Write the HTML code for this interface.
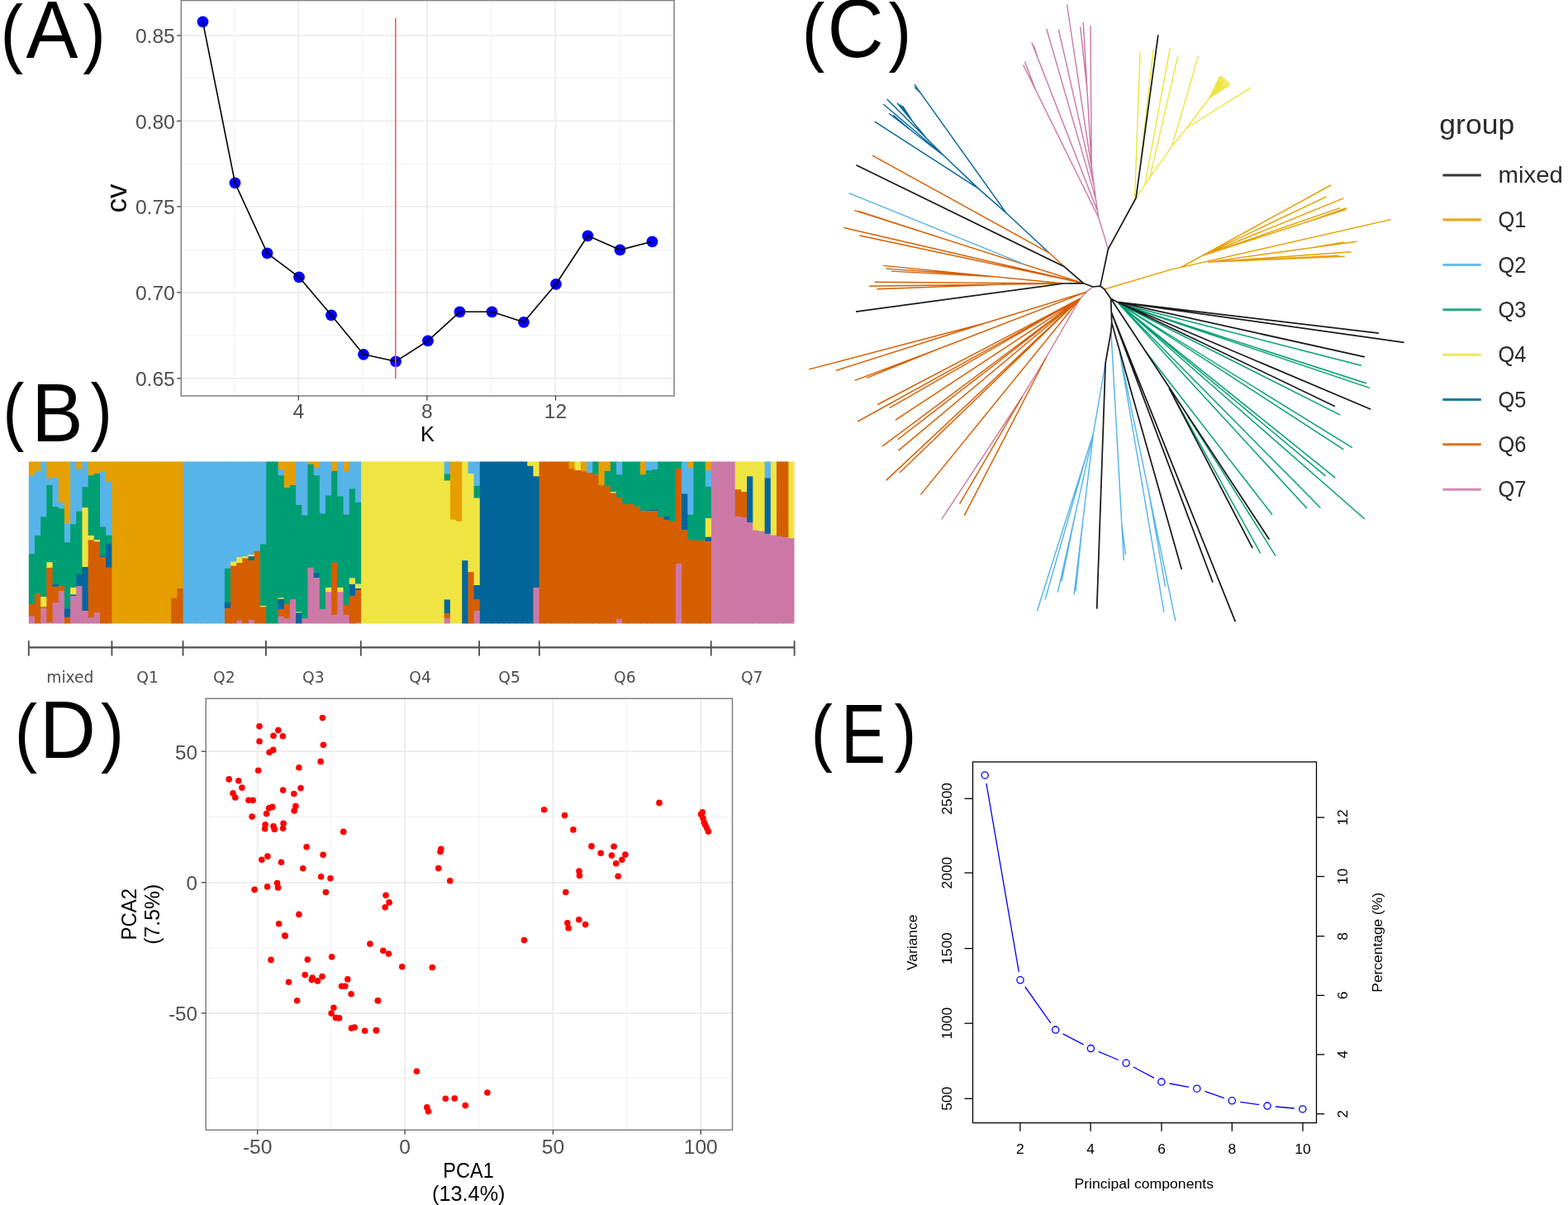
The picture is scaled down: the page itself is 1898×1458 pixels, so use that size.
<!DOCTYPE html>
<html lang="en"><head><meta charset="utf-8"><title>Population structure figure</title>
<style>html,body{margin:0;padding:0;background:#fff}body{width:1898px;height:1458px;overflow:hidden}svg{display:block}text{font-family:"Liberation Sans", sans-serif}.dj{font-family:"DejaVu Sans", "Liberation Sans", sans-serif}.tk{fill:#4d4d4d;font-size:24.6px}.ti{fill:#000;font-size:25.5px}.gmaj{stroke:#ebebeb;stroke-width:1.7;fill:none}.gmin{stroke:#efefef;stroke-width:0.9;fill:none}.ax{stroke:#333;stroke-width:1.2;fill:none}.bd{stroke:#7f7f7f;stroke-width:1.5;fill:none}.et{fill:#000;font-size:17.4px}.lg{fill:#2b2b2b;font-size:28.3px}</style></head><body>
<svg width="1898" height="1458" viewBox="0 0 1898 1458">
<rect width="1898" height="1458" fill="#fff"/>
<g id="panelA">
<path class="gmin" d="M219.3 94.7H816.0"/>
<path class="gmin" d="M219.3 198.2H816.0"/>
<path class="gmin" d="M219.3 302.0H816.0"/>
<path class="gmin" d="M219.3 405.8H816.0"/>
<path class="gmin" d="M283.5 0.5V479.0"/>
<path class="gmin" d="M439.1 0.5V479.0"/>
<path class="gmin" d="M594.7 0.5V479.0"/>
<path class="gmin" d="M750.3 0.5V479.0"/>
<path class="gmaj" d="M219.3 43.0H816.0"/>
<path class="gmaj" d="M219.3 146.4H816.0"/>
<path class="gmaj" d="M219.3 250.0H816.0"/>
<path class="gmaj" d="M219.3 353.8H816.0"/>
<path class="gmaj" d="M219.3 457.8H816.0"/>
<path class="gmaj" d="M361.3 0.5V479.0"/>
<path class="gmaj" d="M516.9 0.5V479.0"/>
<path class="gmaj" d="M672.5 0.5V479.0"/>
<g fill="#0000ff"><circle cx="245.5" cy="26.3" r="6.9"/><circle cx="284.5" cy="221.3" r="6.9"/><circle cx="323.5" cy="306.3" r="6.9"/><circle cx="362.0" cy="335.3" r="6.9"/><circle cx="401.0" cy="381.3" r="6.9"/><circle cx="440.0" cy="428.8" r="6.9"/><circle cx="479.0" cy="437.3" r="6.9"/><circle cx="518.0" cy="412.3" r="6.9"/><circle cx="556.5" cy="377.3" r="6.9"/><circle cx="595.5" cy="377.3" r="6.9"/><circle cx="634.0" cy="389.8" r="6.9"/><circle cx="673.0" cy="343.8" r="6.9"/><circle cx="711.5" cy="285.3" r="6.9"/><circle cx="750.5" cy="302.3" r="6.9"/><circle cx="789.5" cy="292.3" r="6.9"/></g>
<path d="M245.5 26.3 L284.5 221.3 L323.5 306.3 L362.0 335.3 L401.0 381.3 L440.0 428.8 L479.0 437.3 L518.0 412.3 L556.5 377.3 L595.5 377.3 L634.0 389.8 L673.0 343.8 L711.5 285.3 L750.5 302.3 L789.5 292.3" fill="none" stroke="#000" stroke-width="1.6" stroke-linejoin="round"/>
<path d="M478.8 22V458" stroke="#fb5a52" stroke-width="1.6" fill="none"/>
<rect class="bd" x="219.3" y="0.5" width="596.7" height="478.5"/>
<path class="ax" d="M214.2 43.0H218.8"/>
<text class="tk" x="211.8" y="52.4" text-anchor="end">0.85</text>
<path class="ax" d="M214.2 146.4H218.8"/>
<text class="tk" x="211.8" y="155.8" text-anchor="end">0.80</text>
<path class="ax" d="M214.2 250.0H218.8"/>
<text class="tk" x="211.8" y="259.4" text-anchor="end">0.75</text>
<path class="ax" d="M214.2 353.8H218.8"/>
<text class="tk" x="211.8" y="363.2" text-anchor="end">0.70</text>
<path class="ax" d="M214.2 457.8H218.8"/>
<text class="tk" x="211.8" y="467.2" text-anchor="end">0.65</text>
<path class="ax" d="M361.3 479.0V484.6"/>
<text class="tk" x="361.3" y="506.4" text-anchor="middle">4</text>
<path class="ax" d="M516.9 479.0V484.6"/>
<text class="tk" x="516.9" y="506.4" text-anchor="middle">8</text>
<path class="ax" d="M672.5 479.0V484.6"/>
<text class="tk" x="672.5" y="506.4" text-anchor="middle">12</text>
<text class="ti" x="517.6" y="533.8" text-anchor="middle">K</text>
<text transform="translate(153.2 240) rotate(-90)" text-anchor="middle" font-size="35" fill="#000">cv</text>
</g>
<text fill="#000"><tspan x="0.58" y="71.47" font-size="93.38" textLength="27.51" lengthAdjust="spacingAndGlyphs">(</tspan><tspan x="31.42" y="69.80" font-size="98.11" textLength="62.97" lengthAdjust="spacingAndGlyphs">A</tspan><tspan x="100.32" y="71.47" font-size="93.38" textLength="27.51" lengthAdjust="spacingAndGlyphs">)</tspan></text>
<text fill="#000"><tspan x="3.38" y="528.01" font-size="90.27" textLength="25.87" lengthAdjust="spacingAndGlyphs">(</tspan><tspan x="38.14" y="534.10" font-size="100.58" textLength="62.28" lengthAdjust="spacingAndGlyphs">B</tspan><tspan x="109.54" y="528.01" font-size="90.27" textLength="26.25" lengthAdjust="spacingAndGlyphs">)</tspan></text>
<text fill="#000"><tspan x="970.68" y="68.59" font-size="93.28" textLength="27.51" lengthAdjust="spacingAndGlyphs">(</tspan><tspan x="1001.40" y="68.93" font-size="99.43" textLength="68.19" lengthAdjust="spacingAndGlyphs">C</tspan><tspan x="1075.61" y="68.59" font-size="93.28" textLength="27.63" lengthAdjust="spacingAndGlyphs">)</tspan></text>
<text fill="#000"><tspan x="17.72" y="916.77" font-size="93.38" textLength="27.25" lengthAdjust="spacingAndGlyphs">(</tspan><tspan x="47.89" y="917.10" font-size="98.84" textLength="67.91" lengthAdjust="spacingAndGlyphs">D</tspan><tspan x="121.90" y="916.77" font-size="93.38" textLength="28.13" lengthAdjust="spacingAndGlyphs">)</tspan></text>
<text fill="#000"><tspan x="981.74" y="916.20" font-size="89.84" textLength="26.12" lengthAdjust="spacingAndGlyphs">(</tspan><tspan x="1018.04" y="922.80" font-size="102.04" textLength="54.15" lengthAdjust="spacingAndGlyphs">E</tspan><tspan x="1082.43" y="916.20" font-size="89.84" textLength="26.75" lengthAdjust="spacingAndGlyphs">)</tspan></text>
<g id="panelB">
<clipPath id="barclip"><rect x="34.80" y="558.40" width="926.75" height="196.20"/></clipPath>
<g clip-path="url(#barclip)">
<rect x="32.80" y="556.40" width="10.18" height="19.35" fill="#E69F00"/>
<rect x="32.80" y="575.45" width="10.18" height="94.92" fill="#56B4E9"/>
<rect x="32.80" y="670.07" width="10.18" height="61.25" fill="#009E73"/>
<rect x="32.80" y="731.02" width="10.18" height="14.93" fill="#D55E00"/>
<rect x="32.80" y="745.65" width="10.18" height="10.95" fill="#CC79A7"/>
<rect x="41.98" y="556.40" width="8.18" height="14.09" fill="#E69F00"/>
<rect x="41.98" y="570.19" width="8.18" height="78.01" fill="#56B4E9"/>
<rect x="41.98" y="647.90" width="8.18" height="70.63" fill="#009E73"/>
<rect x="41.98" y="718.23" width="8.18" height="38.37" fill="#D55E00"/>
<rect x="49.17" y="556.40" width="8.18" height="69.07" fill="#56B4E9"/>
<rect x="49.17" y="625.17" width="8.18" height="97.33" fill="#009E73"/>
<rect x="49.17" y="722.21" width="8.18" height="12.38" fill="#F0E442"/>
<rect x="49.17" y="734.28" width="8.18" height="2.15" fill="#D55E00"/>
<rect x="49.17" y="736.13" width="8.18" height="20.47" fill="#CC79A7"/>
<rect x="56.35" y="556.40" width="8.18" height="22.62" fill="#E69F00"/>
<rect x="56.35" y="578.72" width="8.18" height="8.54" fill="#56B4E9"/>
<rect x="56.35" y="586.96" width="8.18" height="93.64" fill="#009E73"/>
<rect x="56.35" y="680.30" width="8.18" height="6.98" fill="#F0E442"/>
<rect x="56.35" y="686.97" width="8.18" height="66.08" fill="#D55E00"/>
<rect x="56.35" y="752.75" width="8.18" height="3.85" fill="#CC79A7"/>
<rect x="63.54" y="556.40" width="8.18" height="21.48" fill="#E69F00"/>
<rect x="63.54" y="577.58" width="8.18" height="35.82" fill="#56B4E9"/>
<rect x="63.54" y="613.10" width="8.18" height="93.78" fill="#009E73"/>
<rect x="63.54" y="706.58" width="8.18" height="3.57" fill="#03669B"/>
<rect x="63.54" y="709.85" width="8.18" height="19.48" fill="#D55E00"/>
<rect x="63.54" y="729.03" width="8.18" height="27.57" fill="#CC79A7"/>
<rect x="70.72" y="556.40" width="8.18" height="51.74" fill="#E69F00"/>
<rect x="70.72" y="607.84" width="8.18" height="7.69" fill="#56B4E9"/>
<rect x="70.72" y="615.23" width="8.18" height="94.07" fill="#009E73"/>
<rect x="70.72" y="709.00" width="8.18" height="6.41" fill="#D55E00"/>
<rect x="70.72" y="715.10" width="8.18" height="41.50" fill="#CC79A7"/>
<rect x="77.90" y="556.40" width="8.18" height="77.03" fill="#E69F00"/>
<rect x="77.90" y="633.13" width="8.18" height="23.32" fill="#56B4E9"/>
<rect x="77.90" y="656.14" width="8.18" height="80.29" fill="#009E73"/>
<rect x="77.90" y="736.13" width="8.18" height="10.81" fill="#03669B"/>
<rect x="77.90" y="746.64" width="8.18" height="9.96" fill="#D55E00"/>
<rect x="85.09" y="556.40" width="8.18" height="78.02" fill="#56B4E9"/>
<rect x="85.09" y="634.12" width="8.18" height="77.02" fill="#009E73"/>
<rect x="85.09" y="710.84" width="8.18" height="8.82" fill="#F0E442"/>
<rect x="85.09" y="719.37" width="8.18" height="2.15" fill="#03669B"/>
<rect x="85.09" y="721.21" width="8.18" height="35.39" fill="#CC79A7"/>
<rect x="92.27" y="556.40" width="8.18" height="11.68" fill="#E69F00"/>
<rect x="92.27" y="567.78" width="8.18" height="51.02" fill="#56B4E9"/>
<rect x="92.27" y="618.50" width="8.18" height="76.02" fill="#009E73"/>
<rect x="92.27" y="694.22" width="8.18" height="15.08" fill="#03669B"/>
<rect x="92.27" y="709.00" width="8.18" height="47.60" fill="#CC79A7"/>
<rect x="99.46" y="556.40" width="8.18" height="32.99" fill="#56B4E9"/>
<rect x="99.46" y="589.09" width="8.18" height="25.45" fill="#009E73"/>
<rect x="99.46" y="614.23" width="8.18" height="72.05" fill="#F0E442"/>
<rect x="99.46" y="685.98" width="8.18" height="53.58" fill="#03669B"/>
<rect x="99.46" y="739.26" width="8.18" height="17.34" fill="#CC79A7"/>
<rect x="106.64" y="556.40" width="8.18" height="19.06" fill="#E69F00"/>
<rect x="106.64" y="575.16" width="8.18" height="73.04" fill="#009E73"/>
<rect x="106.64" y="647.90" width="8.18" height="5.70" fill="#F0E442"/>
<rect x="106.64" y="653.30" width="8.18" height="94.49" fill="#D55E00"/>
<rect x="106.64" y="747.50" width="8.18" height="9.10" fill="#CC79A7"/>
<rect x="113.83" y="556.40" width="8.18" height="16.93" fill="#E69F00"/>
<rect x="113.83" y="573.03" width="8.18" height="80.57" fill="#009E73"/>
<rect x="113.83" y="653.30" width="8.18" height="2.43" fill="#F0E442"/>
<rect x="113.83" y="655.43" width="8.18" height="86.25" fill="#D55E00"/>
<rect x="113.83" y="741.39" width="8.18" height="15.21" fill="#CC79A7"/>
<rect x="121.01" y="556.40" width="8.18" height="14.09" fill="#E69F00"/>
<rect x="121.01" y="570.19" width="8.18" height="67.36" fill="#56B4E9"/>
<rect x="121.01" y="637.25" width="8.18" height="35.25" fill="#009E73"/>
<rect x="121.01" y="672.20" width="8.18" height="2.29" fill="#03669B"/>
<rect x="121.01" y="674.19" width="8.18" height="82.41" fill="#D55E00"/>
<rect x="128.19" y="556.40" width="8.18" height="26.59" fill="#E69F00"/>
<rect x="128.19" y="582.69" width="8.18" height="65.23" fill="#56B4E9"/>
<rect x="128.19" y="647.62" width="8.18" height="9.96" fill="#009E73"/>
<rect x="128.19" y="657.28" width="8.18" height="29.71" fill="#03669B"/>
<rect x="128.19" y="686.69" width="8.18" height="69.91" fill="#D55E00"/>
<rect x="135.38" y="556.40" width="8.18" height="200.20" fill="#E69F00"/>
<rect x="142.56" y="556.40" width="8.18" height="200.20" fill="#E69F00"/>
<rect x="149.75" y="556.40" width="8.18" height="200.20" fill="#E69F00"/>
<rect x="156.93" y="556.40" width="8.18" height="200.20" fill="#E69F00"/>
<rect x="164.11" y="556.40" width="8.18" height="200.20" fill="#E69F00"/>
<rect x="171.30" y="556.40" width="8.18" height="200.20" fill="#E69F00"/>
<rect x="178.48" y="556.40" width="8.18" height="200.20" fill="#E69F00"/>
<rect x="185.67" y="556.40" width="8.18" height="200.20" fill="#E69F00"/>
<rect x="192.85" y="556.40" width="8.18" height="200.20" fill="#E69F00"/>
<rect x="200.03" y="556.40" width="8.18" height="200.20" fill="#E69F00"/>
<rect x="207.22" y="556.40" width="8.18" height="167.53" fill="#E69F00"/>
<rect x="207.22" y="723.63" width="8.18" height="32.97" fill="#D55E00"/>
<rect x="214.40" y="556.40" width="8.18" height="155.88" fill="#E69F00"/>
<rect x="214.40" y="711.98" width="8.18" height="44.62" fill="#D55E00"/>
<rect x="221.59" y="556.40" width="8.18" height="200.20" fill="#56B4E9"/>
<rect x="228.77" y="556.40" width="8.18" height="200.20" fill="#56B4E9"/>
<rect x="235.96" y="556.40" width="8.18" height="200.20" fill="#56B4E9"/>
<rect x="243.14" y="556.40" width="8.18" height="200.20" fill="#56B4E9"/>
<rect x="250.32" y="556.40" width="8.18" height="200.20" fill="#56B4E9"/>
<rect x="257.51" y="556.40" width="8.18" height="200.20" fill="#56B4E9"/>
<rect x="264.69" y="556.40" width="8.18" height="200.20" fill="#56B4E9"/>
<rect x="271.88" y="556.40" width="8.18" height="131.73" fill="#56B4E9"/>
<rect x="271.88" y="687.83" width="8.18" height="41.36" fill="#009E73"/>
<rect x="271.88" y="728.89" width="8.18" height="7.55" fill="#03669B"/>
<rect x="271.88" y="736.13" width="8.18" height="20.47" fill="#D55E00"/>
<rect x="279.06" y="556.40" width="8.18" height="123.49" fill="#56B4E9"/>
<rect x="279.06" y="679.59" width="8.18" height="5.27" fill="#F0E442"/>
<rect x="279.06" y="684.56" width="8.18" height="72.04" fill="#D55E00"/>
<rect x="286.24" y="556.40" width="8.18" height="118.09" fill="#56B4E9"/>
<rect x="286.24" y="674.19" width="8.18" height="7.12" fill="#F0E442"/>
<rect x="286.24" y="681.01" width="8.18" height="69.91" fill="#D55E00"/>
<rect x="286.24" y="750.62" width="8.18" height="5.98" fill="#CC79A7"/>
<rect x="293.43" y="556.40" width="8.18" height="117.09" fill="#56B4E9"/>
<rect x="293.43" y="673.19" width="8.18" height="2.43" fill="#F0E442"/>
<rect x="293.43" y="675.32" width="8.18" height="81.28" fill="#D55E00"/>
<rect x="300.61" y="556.40" width="8.18" height="114.96" fill="#56B4E9"/>
<rect x="300.61" y="671.06" width="8.18" height="2.43" fill="#F0E442"/>
<rect x="300.61" y="673.19" width="8.18" height="5.27" fill="#03669B"/>
<rect x="300.61" y="678.17" width="8.18" height="72.05" fill="#D55E00"/>
<rect x="300.61" y="749.91" width="8.18" height="6.69" fill="#CC79A7"/>
<rect x="307.80" y="556.40" width="8.18" height="110.70" fill="#56B4E9"/>
<rect x="307.80" y="666.80" width="8.18" height="89.80" fill="#D55E00"/>
<rect x="314.98" y="556.40" width="8.18" height="102.18" fill="#56B4E9"/>
<rect x="314.98" y="658.28" width="8.18" height="74.89" fill="#009E73"/>
<rect x="314.98" y="732.86" width="8.18" height="1.72" fill="#F0E442"/>
<rect x="314.98" y="734.28" width="8.18" height="22.32" fill="#D55E00"/>
<rect x="322.16" y="556.40" width="8.18" height="200.20" fill="#009E73"/>
<rect x="329.35" y="556.40" width="8.18" height="200.20" fill="#009E73"/>
<rect x="336.53" y="556.40" width="8.18" height="11.96" fill="#E69F00"/>
<rect x="336.53" y="568.06" width="8.18" height="7.40" fill="#56B4E9"/>
<rect x="336.53" y="575.16" width="8.18" height="148.48" fill="#009E73"/>
<rect x="336.53" y="723.34" width="8.18" height="1.72" fill="#F0E442"/>
<rect x="336.53" y="724.77" width="8.18" height="12.66" fill="#03669B"/>
<rect x="336.53" y="737.13" width="8.18" height="8.82" fill="#D55E00"/>
<rect x="336.53" y="745.65" width="8.18" height="10.95" fill="#CC79A7"/>
<rect x="343.72" y="556.40" width="8.18" height="33.98" fill="#E69F00"/>
<rect x="343.72" y="590.08" width="8.18" height="140.95" fill="#009E73"/>
<rect x="343.72" y="730.73" width="8.18" height="18.06" fill="#D55E00"/>
<rect x="343.72" y="748.49" width="8.18" height="8.11" fill="#CC79A7"/>
<rect x="350.90" y="556.40" width="8.18" height="30.86" fill="#E69F00"/>
<rect x="350.90" y="586.96" width="8.18" height="138.82" fill="#009E73"/>
<rect x="350.90" y="725.48" width="8.18" height="31.12" fill="#CC79A7"/>
<rect x="358.08" y="556.40" width="8.18" height="54.87" fill="#56B4E9"/>
<rect x="358.08" y="610.97" width="8.18" height="129.73" fill="#009E73"/>
<rect x="358.08" y="740.39" width="8.18" height="1.29" fill="#F0E442"/>
<rect x="358.08" y="741.39" width="8.18" height="15.21" fill="#03669B"/>
<rect x="365.27" y="556.40" width="8.18" height="67.37" fill="#56B4E9"/>
<rect x="365.27" y="623.47" width="8.18" height="125.32" fill="#009E73"/>
<rect x="365.27" y="748.49" width="8.18" height="8.11" fill="#CC79A7"/>
<rect x="372.45" y="556.40" width="8.18" height="5.57" fill="#E69F00"/>
<rect x="372.45" y="561.67" width="8.18" height="125.32" fill="#009E73"/>
<rect x="372.45" y="686.69" width="8.18" height="69.91" fill="#CC79A7"/>
<rect x="379.64" y="556.40" width="8.18" height="9.83" fill="#E69F00"/>
<rect x="379.64" y="565.93" width="8.18" height="9.53" fill="#56B4E9"/>
<rect x="379.64" y="575.16" width="8.18" height="118.22" fill="#009E73"/>
<rect x="379.64" y="693.08" width="8.18" height="6.41" fill="#03669B"/>
<rect x="379.64" y="699.19" width="8.18" height="57.41" fill="#CC79A7"/>
<rect x="386.82" y="556.40" width="8.18" height="65.24" fill="#56B4E9"/>
<rect x="386.82" y="621.34" width="8.18" height="116.09" fill="#009E73"/>
<rect x="386.82" y="737.13" width="8.18" height="19.47" fill="#CC79A7"/>
<rect x="394.01" y="556.40" width="8.18" height="43.22" fill="#56B4E9"/>
<rect x="394.01" y="599.32" width="8.18" height="111.83" fill="#009E73"/>
<rect x="394.01" y="710.84" width="8.18" height="5.70" fill="#F0E442"/>
<rect x="394.01" y="716.24" width="8.18" height="40.36" fill="#CC79A7"/>
<rect x="401.19" y="556.40" width="8.18" height="13.81" fill="#E69F00"/>
<rect x="401.19" y="569.91" width="8.18" height="110.97" fill="#009E73"/>
<rect x="401.19" y="680.58" width="8.18" height="63.95" fill="#D55E00"/>
<rect x="401.19" y="744.23" width="8.18" height="12.37" fill="#CC79A7"/>
<rect x="408.37" y="556.40" width="8.18" height="44.21" fill="#56B4E9"/>
<rect x="408.37" y="600.31" width="8.18" height="110.83" fill="#009E73"/>
<rect x="408.37" y="710.84" width="8.18" height="5.70" fill="#F0E442"/>
<rect x="408.37" y="716.24" width="8.18" height="40.36" fill="#CC79A7"/>
<rect x="415.56" y="556.40" width="8.18" height="13.81" fill="#E69F00"/>
<rect x="415.56" y="569.91" width="8.18" height="52.87" fill="#56B4E9"/>
<rect x="415.56" y="622.47" width="8.18" height="109.69" fill="#009E73"/>
<rect x="415.56" y="731.87" width="8.18" height="12.66" fill="#D55E00"/>
<rect x="415.56" y="744.23" width="8.18" height="12.37" fill="#CC79A7"/>
<rect x="422.74" y="556.40" width="8.18" height="35.12" fill="#56B4E9"/>
<rect x="422.74" y="591.22" width="8.18" height="108.56" fill="#009E73"/>
<rect x="422.74" y="699.48" width="8.18" height="7.69" fill="#F0E442"/>
<rect x="422.74" y="706.86" width="8.18" height="14.65" fill="#03669B"/>
<rect x="422.74" y="721.21" width="8.18" height="35.39" fill="#D55E00"/>
<rect x="429.93" y="556.40" width="8.18" height="51.74" fill="#56B4E9"/>
<rect x="429.93" y="607.84" width="8.18" height="99.04" fill="#009E73"/>
<rect x="429.93" y="706.58" width="8.18" height="5.70" fill="#F0E442"/>
<rect x="429.93" y="711.98" width="8.18" height="2.43" fill="#03669B"/>
<rect x="429.93" y="714.11" width="8.18" height="39.65" fill="#D55E00"/>
<rect x="429.93" y="753.46" width="8.18" height="3.14" fill="#CC79A7"/>
<rect x="437.11" y="556.40" width="8.18" height="200.20" fill="#F0E442"/>
<rect x="444.29" y="556.40" width="8.18" height="200.20" fill="#F0E442"/>
<rect x="451.48" y="556.40" width="8.18" height="200.20" fill="#F0E442"/>
<rect x="458.66" y="556.40" width="8.18" height="200.20" fill="#F0E442"/>
<rect x="465.85" y="556.40" width="8.18" height="200.20" fill="#F0E442"/>
<rect x="473.03" y="556.40" width="8.18" height="200.20" fill="#F0E442"/>
<rect x="480.21" y="556.40" width="8.18" height="200.20" fill="#F0E442"/>
<rect x="487.40" y="556.40" width="8.18" height="200.20" fill="#F0E442"/>
<rect x="494.58" y="556.40" width="8.18" height="200.20" fill="#F0E442"/>
<rect x="501.77" y="556.40" width="8.18" height="200.20" fill="#F0E442"/>
<rect x="508.95" y="556.40" width="8.18" height="200.20" fill="#F0E442"/>
<rect x="516.14" y="556.40" width="8.18" height="200.20" fill="#F0E442"/>
<rect x="523.32" y="556.40" width="8.18" height="200.20" fill="#F0E442"/>
<rect x="530.50" y="556.40" width="8.18" height="200.20" fill="#F0E442"/>
<rect x="537.69" y="556.40" width="8.18" height="17.22" fill="#56B4E9"/>
<rect x="537.69" y="573.32" width="8.18" height="8.54" fill="#009E73"/>
<rect x="537.69" y="581.56" width="8.18" height="144.22" fill="#F0E442"/>
<rect x="537.69" y="725.48" width="8.18" height="17.21" fill="#03669B"/>
<rect x="537.69" y="742.38" width="8.18" height="5.70" fill="#D55E00"/>
<rect x="537.69" y="747.78" width="8.18" height="8.82" fill="#CC79A7"/>
<rect x="544.87" y="556.40" width="8.18" height="72.63" fill="#E69F00"/>
<rect x="544.87" y="628.73" width="8.18" height="127.87" fill="#F0E442"/>
<rect x="552.06" y="556.40" width="8.18" height="74.76" fill="#E69F00"/>
<rect x="552.06" y="630.86" width="8.18" height="125.74" fill="#F0E442"/>
<rect x="559.24" y="556.40" width="8.18" height="122.07" fill="#F0E442"/>
<rect x="559.24" y="678.17" width="8.18" height="78.43" fill="#03669B"/>
<rect x="566.42" y="556.40" width="8.18" height="16.93" fill="#56B4E9"/>
<rect x="566.42" y="573.03" width="8.18" height="119.36" fill="#F0E442"/>
<rect x="566.42" y="692.09" width="8.18" height="64.51" fill="#D55E00"/>
<rect x="573.61" y="556.40" width="8.18" height="31.85" fill="#56B4E9"/>
<rect x="573.61" y="587.95" width="8.18" height="14.93" fill="#009E73"/>
<rect x="573.61" y="602.58" width="8.18" height="105.72" fill="#F0E442"/>
<rect x="573.61" y="708.00" width="8.18" height="17.77" fill="#03669B"/>
<rect x="573.61" y="725.48" width="8.18" height="14.08" fill="#D55E00"/>
<rect x="573.61" y="739.26" width="8.18" height="17.34" fill="#CC79A7"/>
<rect x="580.79" y="556.40" width="8.18" height="200.20" fill="#03669B"/>
<rect x="587.98" y="556.40" width="8.18" height="200.20" fill="#03669B"/>
<rect x="595.16" y="556.40" width="8.18" height="200.20" fill="#03669B"/>
<rect x="602.34" y="556.40" width="8.18" height="200.20" fill="#03669B"/>
<rect x="609.53" y="556.40" width="8.18" height="200.20" fill="#03669B"/>
<rect x="616.71" y="556.40" width="8.18" height="200.20" fill="#03669B"/>
<rect x="623.90" y="556.40" width="8.18" height="200.20" fill="#03669B"/>
<rect x="631.08" y="556.40" width="8.18" height="200.20" fill="#03669B"/>
<rect x="638.27" y="556.40" width="8.18" height="7.70" fill="#F0E442"/>
<rect x="638.27" y="563.80" width="8.18" height="192.80" fill="#03669B"/>
<rect x="645.45" y="556.40" width="8.18" height="20.20" fill="#F0E442"/>
<rect x="645.45" y="576.30" width="8.18" height="134.84" fill="#03669B"/>
<rect x="645.45" y="710.84" width="8.18" height="45.76" fill="#CC79A7"/>
<rect x="652.63" y="556.40" width="8.18" height="200.20" fill="#D55E00"/>
<rect x="659.82" y="556.40" width="8.18" height="200.20" fill="#D55E00"/>
<rect x="667.00" y="556.40" width="8.18" height="200.20" fill="#D55E00"/>
<rect x="674.19" y="556.40" width="8.18" height="200.20" fill="#D55E00"/>
<rect x="681.37" y="556.40" width="8.18" height="200.20" fill="#D55E00"/>
<rect x="688.55" y="556.40" width="8.18" height="10.97" fill="#E69F00"/>
<rect x="688.55" y="567.07" width="8.18" height="189.53" fill="#D55E00"/>
<rect x="695.74" y="556.40" width="8.18" height="12.96" fill="#F0E442"/>
<rect x="695.74" y="569.06" width="8.18" height="187.54" fill="#D55E00"/>
<rect x="702.92" y="556.40" width="8.18" height="14.09" fill="#E69F00"/>
<rect x="702.92" y="570.19" width="8.18" height="186.41" fill="#D55E00"/>
<rect x="710.11" y="556.40" width="8.18" height="15.94" fill="#56B4E9"/>
<rect x="710.11" y="572.04" width="8.18" height="184.56" fill="#D55E00"/>
<rect x="717.29" y="556.40" width="8.18" height="18.07" fill="#009E73"/>
<rect x="717.29" y="574.17" width="8.18" height="182.43" fill="#D55E00"/>
<rect x="724.47" y="556.40" width="8.18" height="30.86" fill="#E69F00"/>
<rect x="724.47" y="586.96" width="8.18" height="169.64" fill="#D55E00"/>
<rect x="731.66" y="556.40" width="8.18" height="13.81" fill="#E69F00"/>
<rect x="731.66" y="569.91" width="8.18" height="18.34" fill="#009E73"/>
<rect x="731.66" y="587.95" width="8.18" height="168.65" fill="#D55E00"/>
<rect x="738.84" y="556.40" width="8.18" height="38.95" fill="#009E73"/>
<rect x="738.84" y="595.05" width="8.18" height="1.72" fill="#F0E442"/>
<rect x="738.84" y="596.48" width="8.18" height="160.12" fill="#D55E00"/>
<rect x="746.03" y="556.40" width="8.18" height="18.07" fill="#56B4E9"/>
<rect x="746.03" y="574.17" width="8.18" height="27.86" fill="#009E73"/>
<rect x="746.03" y="601.73" width="8.18" height="147.49" fill="#D55E00"/>
<rect x="746.03" y="748.92" width="8.18" height="7.68" fill="#CC79A7"/>
<rect x="753.21" y="556.40" width="8.18" height="53.87" fill="#009E73"/>
<rect x="753.21" y="609.97" width="8.18" height="146.63" fill="#D55E00"/>
<rect x="760.39" y="556.40" width="8.18" height="53.87" fill="#009E73"/>
<rect x="760.39" y="609.97" width="8.18" height="146.63" fill="#D55E00"/>
<rect x="767.58" y="556.40" width="8.18" height="57.00" fill="#009E73"/>
<rect x="767.58" y="613.10" width="8.18" height="143.50" fill="#D55E00"/>
<rect x="774.76" y="556.40" width="8.18" height="18.07" fill="#E69F00"/>
<rect x="774.76" y="574.17" width="8.18" height="44.34" fill="#009E73"/>
<rect x="774.76" y="618.21" width="8.18" height="138.39" fill="#D55E00"/>
<rect x="781.95" y="556.40" width="8.18" height="12.96" fill="#56B4E9"/>
<rect x="781.95" y="569.06" width="8.18" height="48.32" fill="#009E73"/>
<rect x="781.95" y="617.08" width="8.18" height="1.44" fill="#03669B"/>
<rect x="781.95" y="618.21" width="8.18" height="138.39" fill="#D55E00"/>
<rect x="789.13" y="556.40" width="8.18" height="11.96" fill="#56B4E9"/>
<rect x="789.13" y="568.06" width="8.18" height="48.60" fill="#009E73"/>
<rect x="789.13" y="616.36" width="8.18" height="2.15" fill="#03669B"/>
<rect x="789.13" y="618.21" width="8.18" height="138.39" fill="#D55E00"/>
<rect x="796.32" y="556.40" width="8.18" height="69.50" fill="#009E73"/>
<rect x="796.32" y="625.60" width="8.18" height="131.00" fill="#D55E00"/>
<rect x="803.50" y="556.40" width="8.18" height="68.79" fill="#009E73"/>
<rect x="803.50" y="624.89" width="8.18" height="4.14" fill="#03669B"/>
<rect x="803.50" y="628.73" width="8.18" height="127.87" fill="#D55E00"/>
<rect x="810.68" y="556.40" width="8.18" height="74.76" fill="#009E73"/>
<rect x="810.68" y="630.86" width="8.18" height="125.74" fill="#D55E00"/>
<rect x="817.87" y="556.40" width="8.18" height="10.97" fill="#009E73"/>
<rect x="817.87" y="567.07" width="8.18" height="115.66" fill="#D55E00"/>
<rect x="817.87" y="682.43" width="8.18" height="74.17" fill="#CC79A7"/>
<rect x="825.05" y="556.40" width="8.18" height="41.37" fill="#56B4E9"/>
<rect x="825.05" y="597.47" width="8.18" height="44.06" fill="#03669B"/>
<rect x="825.05" y="641.23" width="8.18" height="115.37" fill="#D55E00"/>
<rect x="832.24" y="556.40" width="8.18" height="9.83" fill="#E69F00"/>
<rect x="832.24" y="565.93" width="8.18" height="57.13" fill="#56B4E9"/>
<rect x="832.24" y="622.76" width="8.18" height="30.56" fill="#009E73"/>
<rect x="832.24" y="653.02" width="8.18" height="103.58" fill="#D55E00"/>
<rect x="839.42" y="556.40" width="8.18" height="97.91" fill="#009E73"/>
<rect x="839.42" y="654.01" width="8.18" height="102.59" fill="#D55E00"/>
<rect x="846.60" y="556.40" width="8.18" height="97.91" fill="#009E73"/>
<rect x="846.60" y="654.01" width="8.18" height="102.59" fill="#D55E00"/>
<rect x="853.79" y="556.40" width="8.18" height="12.96" fill="#E69F00"/>
<rect x="853.79" y="569.06" width="8.18" height="20.19" fill="#56B4E9"/>
<rect x="853.79" y="588.95" width="8.18" height="38.38" fill="#009E73"/>
<rect x="853.79" y="627.02" width="8.18" height="23.03" fill="#F0E442"/>
<rect x="853.79" y="649.75" width="8.18" height="5.70" fill="#03669B"/>
<rect x="853.79" y="655.15" width="8.18" height="101.45" fill="#D55E00"/>
<rect x="860.97" y="556.40" width="8.18" height="200.20" fill="#CC79A7"/>
<rect x="868.16" y="556.40" width="8.18" height="200.20" fill="#CC79A7"/>
<rect x="875.34" y="556.40" width="8.18" height="200.20" fill="#CC79A7"/>
<rect x="882.52" y="556.40" width="8.18" height="200.20" fill="#CC79A7"/>
<rect x="889.71" y="556.40" width="8.18" height="36.11" fill="#F0E442"/>
<rect x="889.71" y="592.21" width="8.18" height="32.98" fill="#D55E00"/>
<rect x="889.71" y="624.89" width="8.18" height="131.71" fill="#CC79A7"/>
<rect x="896.89" y="556.40" width="8.18" height="38.95" fill="#F0E442"/>
<rect x="896.89" y="595.05" width="8.18" height="31.13" fill="#D55E00"/>
<rect x="896.89" y="625.88" width="8.18" height="130.72" fill="#CC79A7"/>
<rect x="904.08" y="556.40" width="8.18" height="20.20" fill="#F0E442"/>
<rect x="904.08" y="576.30" width="8.18" height="55.99" fill="#03669B"/>
<rect x="904.08" y="631.99" width="8.18" height="124.61" fill="#CC79A7"/>
<rect x="911.26" y="556.40" width="8.18" height="85.41" fill="#F0E442"/>
<rect x="911.26" y="641.51" width="8.18" height="115.09" fill="#CC79A7"/>
<rect x="918.45" y="556.40" width="8.18" height="86.55" fill="#F0E442"/>
<rect x="918.45" y="642.65" width="8.18" height="113.95" fill="#CC79A7"/>
<rect x="925.63" y="556.40" width="8.18" height="22.33" fill="#56B4E9"/>
<rect x="925.63" y="578.43" width="8.18" height="67.64" fill="#03669B"/>
<rect x="925.63" y="645.77" width="8.18" height="110.83" fill="#CC79A7"/>
<rect x="932.81" y="556.40" width="8.18" height="91.52" fill="#F0E442"/>
<rect x="932.81" y="647.62" width="8.18" height="108.98" fill="#CC79A7"/>
<rect x="940.00" y="556.40" width="8.18" height="92.66" fill="#D55E00"/>
<rect x="940.00" y="648.76" width="8.18" height="107.84" fill="#CC79A7"/>
<rect x="947.18" y="556.40" width="8.18" height="93.94" fill="#D55E00"/>
<rect x="947.18" y="650.04" width="8.18" height="106.56" fill="#CC79A7"/>
<rect x="954.37" y="556.40" width="8.18" height="95.07" fill="#F0E442"/>
<rect x="954.37" y="651.17" width="8.18" height="105.43" fill="#CC79A7"/>
</g>
</g>
<g id="panelBaxis">
<path d="M34.8 783.4H961.6" stroke="#505050" stroke-width="2.2" fill="none"/>
<path d="M34.8 775.2V793.6" stroke="#505050" stroke-width="1.9" fill="none"/>
<path d="M135.4 775.2V793.6" stroke="#505050" stroke-width="1.9" fill="none"/>
<path d="M221.5 775.2V793.6" stroke="#505050" stroke-width="1.9" fill="none"/>
<path d="M321.9 775.2V793.6" stroke="#505050" stroke-width="1.9" fill="none"/>
<path d="M436.8 775.2V793.6" stroke="#505050" stroke-width="1.9" fill="none"/>
<path d="M580.1 775.2V793.6" stroke="#505050" stroke-width="1.9" fill="none"/>
<path d="M652.8 775.2V793.6" stroke="#505050" stroke-width="1.9" fill="none"/>
<path d="M860.7 775.2V793.6" stroke="#505050" stroke-width="1.9" fill="none"/>
<path d="M961.6 775.2V793.6" stroke="#505050" stroke-width="1.9" fill="none"/>
<text class="dj" x="84.8" y="826.4" text-anchor="middle" font-size="18.7" fill="#4d4d4d">mixed</text>
<text class="dj" x="178.6" y="826.4" text-anchor="middle" font-size="18.7" fill="#4d4d4d">Q1</text>
<text class="dj" x="271.3" y="826.4" text-anchor="middle" font-size="18.7" fill="#4d4d4d">Q2</text>
<text class="dj" x="379.3" y="826.4" text-anchor="middle" font-size="18.7" fill="#4d4d4d">Q3</text>
<text class="dj" x="508.5" y="826.4" text-anchor="middle" font-size="18.7" fill="#4d4d4d">Q4</text>
<text class="dj" x="616.5" y="826.4" text-anchor="middle" font-size="18.7" fill="#4d4d4d">Q5</text>
<text class="dj" x="756.3" y="826.4" text-anchor="middle" font-size="18.7" fill="#4d4d4d">Q6</text>
<text class="dj" x="910.2" y="826.4" text-anchor="middle" font-size="18.7" fill="#4d4d4d">Q7</text>
</g>
<g id="panelC">
<path d="M1341.4 301.4 L1329.7 263.0 L1326.4 241.1 L1324.7 226.8 L1322.8 213.6 L1321.2 199.4 M1329.7 263.0 L1238.6 78.5 M1254.1 109.9 L1240.4 74.6 M1328.0 254.3 L1248.9 51.6 M1256.0 69.8 L1251.4 55.2 M1326.4 241.1 L1266.8 34.8 M1324.7 226.8 L1281.4 35.7 M1322.8 213.6 L1291.5 5.5 M1321.2 199.4 L1311.2 26.7 M1316.0 109.6 L1307.7 32.7 M1321.2 199.4 L1320.0 30.9 M1322.9 347.0 L1315.3 353.1 L1307.7 361.0 L1266.0 433.0 L1237.0 480.7 L1139.7 628.3" fill="none" stroke="#CC79A7" stroke-width="1.45" stroke-linejoin="round" stroke-linecap="butt"/>
<path d="M1373.6 239.0 L1380.1 63.2 M1381.1 193.7 L1396.2 59.1 M1375.1 239.5 L1386.0 223.2 L1391.7 214.9 L1418.5 177.1 L1435.0 156.8 L1437.0 154.5 L1513.9 106.2 M1386.0 223.2 L1416.3 57.9 M1391.7 214.9 L1425.9 67.3 M1418.5 177.1 L1450.5 67.7 M1435.0 156.8 L1464.1 118.3 M1464.1 118.3 L1476.9 91.6 M1464.1 118.3 L1478.6 92.0 M1464.1 118.3 L1480.2 93.0 M1464.1 118.3 L1481.8 94.2 M1464.1 118.3 L1483.4 95.5 M1464.1 118.3 L1485.0 96.8 M1464.1 118.3 L1486.5 98.3 M1464.1 118.3 L1487.8 99.9 M1464.1 118.3 L1489.0 101.7 M1464.1 118.3 L1488.0 103.0" fill="none" stroke="#F0E442" stroke-width="1.45" stroke-linejoin="round" stroke-linecap="butt"/>
<path d="M1336.9 350.0 L1420.0 325.4 L1428.9 323.6 L1434.0 321.0 L1611.0 224.0 M1453.9 309.9 L1605.6 237.9 M1453.9 309.9 L1626.5 239.8 M1453.9 309.9 L1622.1 251.6 M1453.9 309.9 L1630.2 253.1 M1586.1 267.3 L1629.4 251.7 M1428.9 323.6 L1683.7 265.6 M1462.0 317.1 L1642.4 292.2 M1586.5 299.9 L1626.5 292.9 M1462.0 317.1 L1635.4 304.7 M1462.0 317.1 L1620.6 309.2 M1462.0 317.1 L1627.7 310.3" fill="none" stroke="#E69F00" stroke-width="1.45" stroke-linejoin="round" stroke-linecap="butt"/>
<path d="M1269.7 305.8 L1218.0 257.7 L1184.0 227.9 L1142.9 188.8 L1122.3 168.2 L1073.7 120.0 M1218.0 257.7 L1106.9 102.1 M1113.5 111.8 L1107.3 105.4 M1184.0 227.9 L1058.8 147.1 M1142.9 188.8 L1069.3 126.0 M1142.9 188.8 L1076.2 137.3 M1101.7 156.9 L1081.2 139.4 M1122.3 168.2 L1086.1 124.8 M1101.7 143.5 L1089.4 126.5 M1103.8 145.6 L1092.5 128.1" fill="none" stroke="#03669B" stroke-width="1.45" stroke-linejoin="round" stroke-linecap="butt"/>
<path d="M1288.5 322.8 L1269.7 305.8 L1056.0 188.1 M1311.4 342.7 L1034.3 254.6 M1150.7 291.6 L1038.9 255.4 M1311.4 342.7 L1021.4 275.5 M1311.4 342.7 L1040.5 285.0 M1286.9 343.0 L1069.1 321.4 M1178.0 332.2 L1072.1 325.1 M1204.1 334.8 L1078.9 328.1 M1286.9 343.0 L1058.7 341.2 M1286.9 343.0 L1052.1 346.3 M1216.5 344.0 L1061.5 349.7 M1315.3 353.1 L1193.1 390.8 L979.2 446.9 M1193.1 390.8 L1012.1 448.3 M1315.3 353.1 L1130.0 424.5 L1034.6 460.4 M1130.0 424.5 L1049.1 457.4 M1307.7 361.0 L1062.3 489.5 M1307.7 361.0 L1076.6 493.6 M1307.7 361.0 L1038.2 510.0 M1307.7 361.0 L1084.0 508.1 M1307.7 361.0 L1067.8 540.2 M1307.7 361.0 L1086.7 531.7 M1307.7 361.0 L1087.5 545.1 M1307.7 361.0 L1072.5 581.4 M1307.7 361.0 L1088.9 572.0 M1307.7 361.0 L1114.4 598.6 M1266.0 433.0 L1167.1 624.1 M1237.0 480.7 L1161.6 609.6" fill="none" stroke="#D55E00" stroke-width="1.45" stroke-linejoin="round" stroke-linecap="butt"/>
<path d="M1241.3 320.4 L1027.5 233.6 M1344.9 400.7 L1360.3 678.2 M1357.8 633.8 L1362.5 671.3 M1355.3 426.0 L1408.9 740.7 M1355.3 426.0 L1422.9 751.4 M1390.5 595.2 L1410.5 709.7 M1338.1 439.5 L1323.4 524.6 L1255.4 739.3 M1316.6 546.1 L1265.0 725.4 M1323.4 524.6 L1280.4 716.6 M1301.9 620.6 L1285.0 703.7 M1323.4 524.6 L1300.1 719.3 M1310.6 631.7 L1302.0 715.2" fill="none" stroke="#56B4E9" stroke-width="1.45" stroke-linejoin="round" stroke-linecap="butt"/>
<path d="M1353.7 367.0 L1647.8 442.3 M1353.7 367.0 L1653.8 463.7 M1353.7 367.0 L1657.9 469.4 M1353.7 367.0 L1622.3 502.1 M1353.7 367.0 L1636.8 541.6 M1353.7 367.0 L1626.4 543.8 M1353.7 367.0 L1616.3 578.1 M1353.7 367.0 L1604.5 575.9 M1353.7 367.0 L1598.4 614.5 M1353.7 367.0 L1582.0 615.1 M1353.7 367.0 L1651.9 628.0 M1387.1 425.8 L1540.0 622.8 M1415.2 469.7 L1525.7 669.4 M1437.1 502.6 L1544.1 672.7" fill="none" stroke="#009E73" stroke-width="1.45" stroke-linejoin="round" stroke-linecap="butt"/>
<path d="M1311.4 342.7 L1288.5 322.8 L1036.4 199.7 M1311.4 342.7 L1286.9 343.0 L1036.0 377.1 M1311.4 342.7 L1322.9 347.0 L1331.9 346.1 L1341.4 301.4 L1375.1 239.5 L1401.9 42.4 M1331.9 346.1 L1336.9 350.0 L1344.6 361.2 M1344.6 361.2 L1345.3 377.9 L1345.7 390.6 L1344.9 400.7 L1338.1 439.5 L1327.7 736.6 M1345.3 377.9 L1495.3 752.2 M1345.3 377.9 L1468.1 704.8 M1345.7 390.6 L1430.3 689.1 M1344.6 361.2 L1536.4 652.7 M1415.2 469.7 L1516.1 663.1 M1344.6 361.2 L1352.0 365.3 M1352.0 365.3 L1668.9 403.1 M1352.0 365.3 L1699.6 414.3 M1352.0 365.3 L1651.9 431.9 M1352.0 365.3 L1616.0 491.7 M1352.0 365.3 L1659.3 495.2" fill="none" stroke="#1a1a1a" stroke-width="1.75" stroke-linejoin="round" stroke-linecap="butt"/>
<text x="1742.3" y="161.8" font-size="33.2" fill="#2b2b2b" textLength="91" lengthAdjust="spacingAndGlyphs">group</text>
<path d="M1746.4 212.0H1792.8" stroke="#1a1a1a" stroke-width="3.1" stroke-opacity="0.88" fill="none"/>
<text class="lg" x="1813.4" y="221.0" textLength="78.5" lengthAdjust="spacingAndGlyphs">mixed</text>
<path d="M1746.4 265.9H1792.8" stroke="#E69F00" stroke-width="3.1" stroke-opacity="0.88" fill="none"/>
<text class="lg" x="1813.4" y="274.9" textLength="34.0" lengthAdjust="spacingAndGlyphs">Q1</text>
<path d="M1746.4 320.5H1792.8" stroke="#56B4E9" stroke-width="3.1" stroke-opacity="0.88" fill="none"/>
<text class="lg" x="1813.4" y="329.5" textLength="34.0" lengthAdjust="spacingAndGlyphs">Q2</text>
<path d="M1746.4 374.7H1792.8" stroke="#009E73" stroke-width="3.1" stroke-opacity="0.88" fill="none"/>
<text class="lg" x="1813.4" y="383.7" textLength="34.0" lengthAdjust="spacingAndGlyphs">Q3</text>
<path d="M1746.4 429.3H1792.8" stroke="#F0E442" stroke-width="3.1" stroke-opacity="0.88" fill="none"/>
<text class="lg" x="1813.4" y="438.3" textLength="34.0" lengthAdjust="spacingAndGlyphs">Q4</text>
<path d="M1746.4 483.5H1792.8" stroke="#03669B" stroke-width="3.1" stroke-opacity="0.88" fill="none"/>
<text class="lg" x="1813.4" y="492.5" textLength="34.0" lengthAdjust="spacingAndGlyphs">Q5</text>
<path d="M1746.4 537.8H1792.8" stroke="#D55E00" stroke-width="3.1" stroke-opacity="0.88" fill="none"/>
<text class="lg" x="1813.4" y="546.8" textLength="34.0" lengthAdjust="spacingAndGlyphs">Q6</text>
<path d="M1746.4 592.3H1792.8" stroke="#CC79A7" stroke-width="3.1" stroke-opacity="0.88" fill="none"/>
<text class="lg" x="1813.4" y="601.3" textLength="34.0" lengthAdjust="spacingAndGlyphs">Q7</text>
</g>
<g id="panelD">
<path class="gmin" d="M249.2 988.5H886.5"/>
<path class="gmin" d="M249.2 1146.9H886.5"/>
<path class="gmin" d="M249.2 1304.7H886.5"/>
<path class="gmin" d="M400.8 845.2V1367.2"/>
<path class="gmin" d="M579.8 845.2V1367.2"/>
<path class="gmin" d="M758.9 845.2V1367.2"/>
<path class="gmaj" d="M249.2 909.2H886.5"/>
<path class="gmaj" d="M249.2 1067.8H886.5"/>
<path class="gmaj" d="M249.2 1225.9H886.5"/>
<path class="gmaj" d="M311.7 845.2V1367.2"/>
<path class="gmaj" d="M490.1 845.2V1367.2"/>
<path class="gmaj" d="M669.4 845.2V1367.2"/>
<path class="gmaj" d="M848.3 845.2V1367.2"/>
<g fill="#ff0000"><circle cx="277.2" cy="942.9" r="3.8"/>
<circle cx="288.8" cy="944.7" r="3.8"/>
<circle cx="292.9" cy="953.1" r="3.8"/>
<circle cx="282.0" cy="959.9" r="3.8"/>
<circle cx="284.8" cy="965.0" r="3.8"/>
<circle cx="301.0" cy="968.3" r="3.8"/>
<circle cx="306.1" cy="968.3" r="3.8"/>
<circle cx="305.1" cy="988.1" r="3.8"/>
<circle cx="314.0" cy="878.7" r="3.8"/>
<circle cx="314.0" cy="897.0" r="3.8"/>
<circle cx="312.7" cy="932.3" r="3.8"/>
<circle cx="331.0" cy="890.2" r="3.8"/>
<circle cx="336.8" cy="883.6" r="3.8"/>
<circle cx="342.4" cy="890.7" r="3.8"/>
<circle cx="326.1" cy="910.2" r="3.8"/>
<circle cx="330.7" cy="907.4" r="3.8"/>
<circle cx="325.6" cy="977.7" r="3.8"/>
<circle cx="329.7" cy="976.4" r="3.8"/>
<circle cx="322.6" cy="984.6" r="3.8"/>
<circle cx="321.1" cy="997.8" r="3.8"/>
<circle cx="320.6" cy="1002.8" r="3.8"/>
<circle cx="331.0" cy="999.8" r="3.8"/>
<circle cx="332.2" cy="1003.4" r="3.8"/>
<circle cx="343.1" cy="996.2" r="3.8"/>
<circle cx="342.6" cy="1002.3" r="3.8"/>
<circle cx="342.6" cy="956.1" r="3.8"/>
<circle cx="355.8" cy="960.5" r="3.8"/>
<circle cx="364.0" cy="953.6" r="3.8"/>
<circle cx="361.9" cy="928.7" r="3.8"/>
<circle cx="357.9" cy="975.4" r="3.8"/>
<circle cx="356.1" cy="981.0" r="3.8"/>
<circle cx="390.4" cy="868.6" r="3.8"/>
<circle cx="391.4" cy="901.3" r="3.8"/>
<circle cx="388.1" cy="921.4" r="3.8"/>
<circle cx="415.7" cy="1006.4" r="3.8"/>
<circle cx="371.1" cy="1024.7" r="3.8"/>
<circle cx="391.1" cy="1034.3" r="3.8"/>
<circle cx="316.8" cy="1040.2" r="3.8"/>
<circle cx="323.9" cy="1036.1" r="3.8"/>
<circle cx="340.4" cy="1043.2" r="3.8"/>
<circle cx="366.8" cy="1050.8" r="3.8"/>
<circle cx="388.6" cy="1060.7" r="3.8"/>
<circle cx="400.0" cy="1062.7" r="3.8"/>
<circle cx="394.4" cy="1079.5" r="3.8"/>
<circle cx="308.1" cy="1076.4" r="3.8"/>
<circle cx="323.6" cy="1072.9" r="3.8"/>
<circle cx="335.5" cy="1068.6" r="3.8"/>
<circle cx="336.5" cy="1073.9" r="3.8"/>
<circle cx="361.9" cy="1106.4" r="3.8"/>
<circle cx="337.6" cy="1117.8" r="3.8"/>
<circle cx="344.7" cy="1132.0" r="3.8"/>
<circle cx="467.0" cy="1083.3" r="3.8"/>
<circle cx="471.1" cy="1091.9" r="3.8"/>
<circle cx="466.2" cy="1097.8" r="3.8"/>
<circle cx="345.2" cy="1132.5" r="3.8"/>
<circle cx="328.0" cy="1161.4" r="3.8"/>
<circle cx="372.3" cy="1161.1" r="3.8"/>
<circle cx="401.6" cy="1157.8" r="3.8"/>
<circle cx="447.9" cy="1142.1" r="3.8"/>
<circle cx="463.8" cy="1150.2" r="3.8"/>
<circle cx="470.4" cy="1154.0" r="3.8"/>
<circle cx="369.2" cy="1179.6" r="3.8"/>
<circle cx="378.1" cy="1183.1" r="3.8"/>
<circle cx="377.3" cy="1185.6" r="3.8"/>
<circle cx="384.4" cy="1186.9" r="3.8"/>
<circle cx="390.0" cy="1181.6" r="3.8"/>
<circle cx="349.5" cy="1188.2" r="3.8"/>
<circle cx="420.8" cy="1184.9" r="3.8"/>
<circle cx="413.5" cy="1193.2" r="3.8"/>
<circle cx="417.8" cy="1193.2" r="3.8"/>
<circle cx="425.1" cy="1202.8" r="3.8"/>
<circle cx="359.6" cy="1210.7" r="3.8"/>
<circle cx="457.3" cy="1210.7" r="3.8"/>
<circle cx="403.9" cy="1219.3" r="3.8"/>
<circle cx="401.1" cy="1226.1" r="3.8"/>
<circle cx="406.4" cy="1231.4" r="3.8"/>
<circle cx="410.5" cy="1231.9" r="3.8"/>
<circle cx="425.4" cy="1244.1" r="3.8"/>
<circle cx="429.2" cy="1243.1" r="3.8"/>
<circle cx="441.6" cy="1247.3" r="3.8"/>
<circle cx="455.2" cy="1246.8" r="3.8"/>
<circle cx="658.6" cy="979.7" r="3.8"/>
<circle cx="683.5" cy="986.6" r="3.8"/>
<circle cx="693.9" cy="1003.9" r="3.8"/>
<circle cx="716.0" cy="1023.9" r="3.8"/>
<circle cx="727.2" cy="1032.3" r="3.8"/>
<circle cx="743.1" cy="1024.2" r="3.8"/>
<circle cx="740.4" cy="1035.1" r="3.8"/>
<circle cx="756.9" cy="1034.1" r="3.8"/>
<circle cx="752.8" cy="1040.2" r="3.8"/>
<circle cx="745.7" cy="1044.7" r="3.8"/>
<circle cx="701.0" cy="1054.1" r="3.8"/>
<circle cx="701.5" cy="1059.4" r="3.8"/>
<circle cx="748.2" cy="1060.2" r="3.8"/>
<circle cx="684.8" cy="1079.5" r="3.8"/>
<circle cx="686.8" cy="1116.8" r="3.8"/>
<circle cx="688.1" cy="1122.9" r="3.8"/>
<circle cx="700.8" cy="1112.7" r="3.8"/>
<circle cx="708.6" cy="1118.6" r="3.8"/>
<circle cx="634.5" cy="1137.6" r="3.8"/>
<circle cx="798.0" cy="971.4" r="3.8"/>
<circle cx="850.3" cy="982.8" r="3.8"/>
<circle cx="848.5" cy="985.3" r="3.8"/>
<circle cx="851.0" cy="989.9" r="3.8"/>
<circle cx="852.3" cy="995.0" r="3.8"/>
<circle cx="853.6" cy="998.0" r="3.8"/>
<circle cx="855.6" cy="1001.8" r="3.8"/>
<circle cx="857.4" cy="1006.1" r="3.8"/>
<circle cx="533.8" cy="1027.2" r="3.8"/>
<circle cx="533.0" cy="1030.5" r="3.8"/>
<circle cx="530.7" cy="1050.6" r="3.8"/>
<circle cx="544.7" cy="1065.8" r="3.8"/>
<circle cx="457.6" cy="1210.7" r="3.8"/>
<circle cx="455.6" cy="1246.8" r="3.8"/>
<circle cx="504.4" cy="1296.2" r="3.8"/>
<circle cx="589.9" cy="1322.0" r="3.8"/>
<circle cx="539.3" cy="1329.3" r="3.8"/>
<circle cx="550.2" cy="1329.0" r="3.8"/>
<circle cx="563.3" cy="1337.6" r="3.8"/>
<circle cx="516.8" cy="1339.9" r="3.8"/>
<circle cx="518.5" cy="1344.7" r="3.8"/>
<circle cx="486.7" cy="1169.7" r="3.8"/>
<circle cx="523.3" cy="1170.5" r="3.8"/></g>
<rect class="bd" x="249.2" y="845.2" width="637.3" height="522.0"/>
<path class="ax" d="M243.6 909.2H249.2"/>
<text class="tk" x="238.9" y="918.6" text-anchor="end" style="font-size:24.2px">50</text>
<path class="ax" d="M243.6 1067.8H249.2"/>
<text class="tk" x="238.9" y="1077.2" text-anchor="end" style="font-size:24.2px">0</text>
<path class="ax" d="M243.6 1225.9H249.2"/>
<text class="tk" x="238.9" y="1235.3" text-anchor="end" style="font-size:24.2px">-50</text>
<path class="ax" d="M311.7 1367.2V1372.8"/>
<text class="tk" x="311.7" y="1395.6" text-anchor="middle">-50</text>
<path class="ax" d="M490.1 1367.2V1372.8"/>
<text class="tk" x="490.1" y="1395.6" text-anchor="middle">0</text>
<path class="ax" d="M669.4 1367.2V1372.8"/>
<text class="tk" x="669.4" y="1395.6" text-anchor="middle">50</text>
<path class="ax" d="M848.3 1367.2V1372.8"/>
<text class="tk" x="848.3" y="1395.6" text-anchor="middle">100</text>
<text class="ti" x="567.0" y="1424.6" text-anchor="middle" textLength="61.5" lengthAdjust="spacingAndGlyphs">PCA1</text>
<text class="ti" x="567.3" y="1452.5" text-anchor="middle" textLength="88.5" lengthAdjust="spacingAndGlyphs">(13.4%)</text>
<text class="ti" transform="translate(165 1106.2) rotate(-90)" text-anchor="middle" textLength="62.5" lengthAdjust="spacingAndGlyphs">PCA2</text>
<text class="ti" transform="translate(192.9 1106.2) rotate(-90)" text-anchor="middle" textLength="73" lengthAdjust="spacingAndGlyphs">(7.5%)</text>
</g>
<g id="panelE">
<path d="M1193.9 947.8L1233.3 1175.9 M1240.8 1194.0L1271.9 1237.9 M1286.5 1250.8L1311.6 1263.9 M1329.6 1272.4L1353.9 1282.5 M1371.9 1291.0L1397.1 1304.4 M1415.7 1311.0L1439.0 1315.3 M1458.3 1320.4L1481.8 1328.6 M1501.2 1333.3L1524.1 1336.6 M1544.0 1339.0L1566.8 1341.0" stroke="#0000ff" stroke-width="1.3" fill="none"/>
<g fill="none" stroke="#0000ff" stroke-width="1.3"><circle cx="1192.2" cy="937.9" r="4.1"/><circle cx="1235.0" cy="1185.8" r="4.1"/><circle cx="1277.7" cy="1246.1" r="4.1"/><circle cx="1320.4" cy="1268.6" r="4.1"/><circle cx="1363.1" cy="1286.3" r="4.1"/><circle cx="1405.9" cy="1309.1" r="4.1"/><circle cx="1448.8" cy="1317.2" r="4.1"/><circle cx="1491.3" cy="1331.8" r="4.1"/><circle cx="1534.0" cy="1338.1" r="4.1"/><circle cx="1576.8" cy="1341.9" r="4.1"/></g>
<rect x="1177.5" y="921.9" width="416.0" height="436.7" fill="none" stroke="#000" stroke-width="1.3"/>
<path d="M1167.5 966.3H1177.5" stroke="#000" stroke-width="1.3"/>
<text class="et" transform="translate(1152.1 966.3) rotate(-90)" text-anchor="middle">2500</text>
<path d="M1167.5 1056.1H1177.5" stroke="#000" stroke-width="1.3"/>
<text class="et" transform="translate(1152.1 1056.1) rotate(-90)" text-anchor="middle">2000</text>
<path d="M1167.5 1147.6H1177.5" stroke="#000" stroke-width="1.3"/>
<text class="et" transform="translate(1152.1 1147.6) rotate(-90)" text-anchor="middle">1500</text>
<path d="M1167.5 1238.2H1177.5" stroke="#000" stroke-width="1.3"/>
<text class="et" transform="translate(1152.1 1238.2) rotate(-90)" text-anchor="middle">1000</text>
<path d="M1167.5 1329.3H1177.5" stroke="#000" stroke-width="1.3"/>
<text class="et" transform="translate(1152.1 1329.3) rotate(-90)" text-anchor="middle">500</text>
<path d="M1234.9 1358.6V1368.8" stroke="#000" stroke-width="1.3"/>
<text class="et" x="1234.9" y="1396.4" text-anchor="middle">2</text>
<path d="M1320.1 1358.6V1368.8" stroke="#000" stroke-width="1.3"/>
<text class="et" x="1320.1" y="1396.4" text-anchor="middle">4</text>
<path d="M1406.0 1358.6V1368.8" stroke="#000" stroke-width="1.3"/>
<text class="et" x="1406.0" y="1396.4" text-anchor="middle">6</text>
<path d="M1491.3 1358.6V1368.8" stroke="#000" stroke-width="1.3"/>
<text class="et" x="1491.3" y="1396.4" text-anchor="middle">8</text>
<path d="M1577.0 1358.6V1368.8" stroke="#000" stroke-width="1.3"/>
<text class="et" x="1577.0" y="1396.4" text-anchor="middle">10</text>
<path d="M1593.5 989.1H1603.2" stroke="#000" stroke-width="1.3"/>
<text class="et" transform="translate(1630.5 989.1) rotate(-90)" text-anchor="middle">12</text>
<path d="M1593.5 1060.5H1603.2" stroke="#000" stroke-width="1.3"/>
<text class="et" transform="translate(1630.5 1060.5) rotate(-90)" text-anchor="middle">10</text>
<path d="M1593.5 1132.8H1603.2" stroke="#000" stroke-width="1.3"/>
<text class="et" transform="translate(1630.5 1132.8) rotate(-90)" text-anchor="middle">8</text>
<path d="M1593.5 1204.4H1603.2" stroke="#000" stroke-width="1.3"/>
<text class="et" transform="translate(1630.5 1204.4) rotate(-90)" text-anchor="middle">6</text>
<path d="M1593.5 1275.9H1603.2" stroke="#000" stroke-width="1.3"/>
<text class="et" transform="translate(1630.5 1275.9) rotate(-90)" text-anchor="middle">4</text>
<path d="M1593.5 1347.8H1603.2" stroke="#000" stroke-width="1.3"/>
<text class="et" transform="translate(1630.5 1347.8) rotate(-90)" text-anchor="middle">2</text>
<text class="et" x="1384.7" y="1438" text-anchor="middle" textLength="168.6" lengthAdjust="spacingAndGlyphs">Principal components</text>
<text class="et" transform="translate(1110.3 1140.3) rotate(-90)" text-anchor="middle">Variance</text>
<text class="et" transform="translate(1672.8 1140.3) rotate(-90)" text-anchor="middle">Percentage (%)</text>
</g>
</svg></body></html>
